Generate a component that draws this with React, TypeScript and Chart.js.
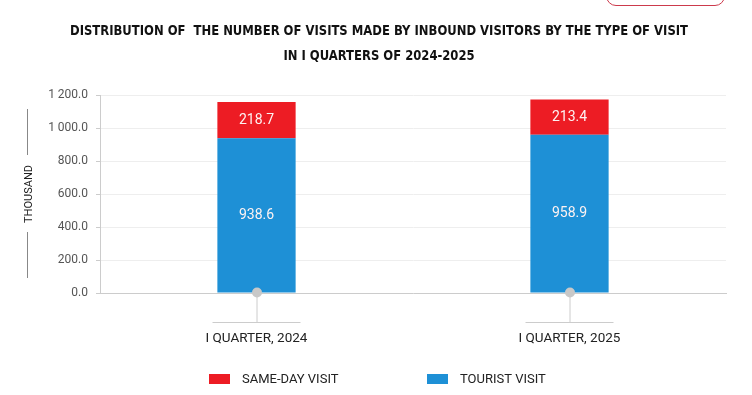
import React, { useEffect, useRef } from "react";
import { Chart, registerables } from "chart.js";

Chart.register(...registerables);

const categories = ["I QUARTER, 2024", "I QUARTER, 2025"];
const touristVisit = [938.6, 958.9];
const sameDayVisit = [218.7, 213.4];
const seriesNames = ["SAME-DAY VISIT", "TOURIST VISIT"];
const titleLines = [
  "DISTRIBUTION OF  THE NUMBER OF VISITS MADE BY INBOUND VISITORS BY THE TYPE OF VISIT",
  "IN I QUARTERS OF 2024-2025",
];
const yAxisTitle = "THOUSAND";
const yMin = 0;
const yMax = 1200;
const yStep = 200;

const RED = "#ED1C24";
const BLUE = "#1E90D6";
const FONT = "Roboto, 'Noto Sans', sans-serif";

function fmt(v: number): string {
  const s = v.toFixed(1);
  const [i, d] = s.split(".");
  const ii = i.replace(/\B(?=(\d{3})+(?!\d))/g, " ");
  return ii + "." + d;
}

const decorPlugin = {
  id: "decor",
  afterDatasetsDraw(chart: any) {
    const ctx = chart.ctx;
    const area = chart.chartArea;
    const xs = chart.scales.x;
    ctx.save();
    // value labels
    ctx.font = `14px ${FONT}`;
    ctx.fillStyle = "#fdf2f2";
    ctx.textAlign = "center";
    ctx.textBaseline = "middle";
    chart.data.datasets.forEach((ds: any, di: number) => {
      const meta = chart.getDatasetMeta(di);
      meta.data.forEach((bar: any, i: number) => {
        const p = bar.getProps(["x", "y", "base"], true);
        ctx.fillText(fmt(ds.data[i]), p.x, (p.y + p.base) / 2);
      });
    });
    // connectors under categories
    categories.forEach((_c, i) => {
      const x = xs.getPixelForTick(i);
      ctx.strokeStyle = "#cccccc";
      ctx.lineWidth = 1;
      ctx.beginPath();
      ctx.moveTo(x + 0.5, area.bottom);
      ctx.lineTo(x + 0.5, 322);
      ctx.moveTo(x - 44, 322.5);
      ctx.lineTo(x + 44, 322.5);
      ctx.stroke();
      ctx.fillStyle = "#c8c8c8";
      ctx.beginPath();
      ctx.arc(x + 0.5, area.bottom - 0.5, 5, 0, Math.PI * 2);
      ctx.fill();
    });
    ctx.restore();
  },
  afterDraw(chart: any) {
    const ctx = chart.ctx;
    const area = chart.chartArea;
    ctx.save();
    // title
    ctx.fillStyle = "#111";
    ctx.textAlign = "center";
    ctx.textBaseline = "middle";
    ctx.font = `bold 14.5px 'Liberation Sans Narrow', 'DejaVu Sans Condensed', Roboto, sans-serif`;
    const w0 = ctx.measureText(titleLines[0]).width;
    const sx = 618 / w0;
    const cx = 379;
    titleLines.forEach((line, i) => {
      ctx.save();
      ctx.translate(cx, 31.5 + i * 25);
      ctx.scale(sx, 1);
      ctx.fillText(line, 0, 0);
      ctx.restore();
    });
    // y axis title with lines
    const cy = (area.top + area.bottom) / 2;
    ctx.save();
    ctx.translate(29, cy);
    ctx.rotate(-Math.PI / 2);
    ctx.font = `11px ${FONT}`;
    ctx.fillStyle = "#222";
    ctx.fillText(yAxisTitle, 0, 0);
    ctx.restore();
    ctx.strokeStyle = "#888";
    ctx.lineWidth = 1;
    ctx.beginPath();
    ctx.moveTo(27.5, 109);
    ctx.lineTo(27.5, 155);
    ctx.moveTo(27.5, 232);
    ctx.lineTo(27.5, 278);
    ctx.stroke();
    // legend
    const items = [
      { label: seriesNames[0], color: RED, x: 209 },
      { label: seriesNames[1], color: BLUE, x: 427 },
    ];
    ctx.font = `13px ${FONT}`;
    ctx.textAlign = "left";
    items.forEach((it) => {
      ctx.fillStyle = it.color;
      ctx.fillRect(it.x, 374, 21, 10);
      ctx.fillStyle = "#222";
      ctx.fillText(it.label, it.x + 33, 379.5);
    });
    ctx.restore();
  },
};

export default function App() {
  const ref = useRef<HTMLCanvasElement>(null);
  useEffect(() => {
    document.body.style.margin = "0";
    const chart = new Chart(ref.current!, {
      type: "bar",
      data: {
        labels: categories,
        datasets: [
          { label: seriesNames[1], data: touristVisit, backgroundColor: BLUE, categoryPercentage: 1, barPercentage: 0.25 },
          { label: seriesNames[0], data: sameDayVisit, backgroundColor: RED, categoryPercentage: 1, barPercentage: 0.25 },
        ],
      },
      options: {
        animation: false,
        responsive: false,
        devicePixelRatio: 1,
        layout: { padding: { top: 95, left: 0, right: 26, bottom: 0 } },
        plugins: {
          legend: { display: false },
          title: { display: false },
          tooltip: { enabled: false },
        },
        scales: {
          x: {
            stacked: true,
            grid: { display: false, drawTicks: false },
            border: { display: true, color: "#cccccc" },
            ticks: {
              padding: 38,
              color: "#222",
              font: { family: FONT, size: 13.5 },
            },
            afterFit: (s: any) => {
              s.height = 102;
            },
          } as any,
          y: {
            stacked: true,
            min: yMin,
            max: yMax,
            border: { display: true, color: "#cccccc" },
            grid: { color: "#eeeeee", tickColor: "#cccccc", tickLength: 4 },
            ticks: {
              stepSize: yStep,
              padding: 8,
              color: "#555",
              font: { family: FONT, size: 12 },
              callback: (v: any) => fmt(Number(v)),
            },
            afterFit: (s: any) => {
              s.width = 100;
            },
          },
        },
      },
      plugins: [decorPlugin],
    });
    return () => chart.destroy();
  }, []);
  return (
    <div style={{ position: "relative", width: 752, height: 395, overflow: "hidden", background: "#fff" }}>
      <canvas ref={ref} width={752} height={395} style={{ display: "block" }} />
      <div
        style={{
          position: "absolute",
          left: 606,
          top: -20,
          width: 117,
          height: 24,
          border: "1.5px solid #cc3a4c",
          borderRadius: 10,
        }}
      />
    </div>
  );
}
